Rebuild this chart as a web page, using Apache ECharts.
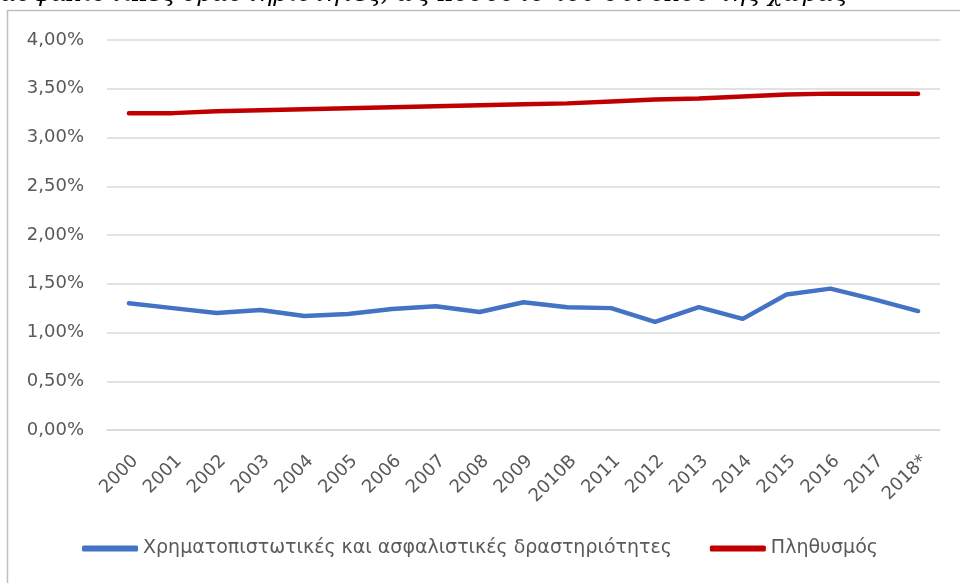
<!DOCTYPE html>
<html><head><meta charset="utf-8">
<script src="https://cdn.jsdelivr.net/npm/echarts@6/dist/echarts.min.js"></script>
<style>html,body{margin:0;padding:0;background:#fff}#c{width:960px;height:583px}</style>
</head><body><div id="c"></div>
<script>
const categories = ['2000','2001','2002','2003','2004','2005','2006','2007','2008','2009','2010B','2011','2012','2013','2014','2015','2016','2017','2018*'];
const financeValues = [1.30,1.25,1.20,1.23,1.17,1.19,1.24,1.27,1.21,1.31,1.26,1.25,1.11,1.26,1.14,1.39,1.45,1.34,1.22];
const populationValues = [3.25,3.25,3.27,3.28,3.29,3.30,3.31,3.32,3.33,3.34,3.35,3.37,3.39,3.40,3.42,3.44,3.45,3.45,3.45];
const yTicks = [0,0.5,1,1.5,2,2.5,3,3.5,4];
const seriesNames = ['Χρηματοπιστωτικές και ασφαλιστικές δραστηριότητες','Πληθυσμός'];
const titleText = 'ασφαλιστικές δραστηριότητες, ως ποσοστό του συνόλου της χώρας';

const fmt = v => v.toFixed(2).replace('.', ',') + '%';
const chart = echarts.init(document.getElementById('c'));
const font = 'DejaVu Sans';
chart.setOption({
  animation: false,
  backgroundColor: '#fff',
  graphic: [
    {type:'rect', shape:{x:7.5,y:10.5,width:1000,height:600}, style:{fill:'none', stroke:'#bfbfbf', lineWidth:1.5}},
    {type:'text', x:0, y:-18, style:{text:titleText, font:'italic 24.5px "DejaVu Serif"', fill:'#000'}}
  ],
  grid: {left:107, right:20, top:40, bottom:153},
  xAxis: {
    type:'category', data:categories, boundaryGap:true,
    axisLine:{show:true, lineStyle:{color:'#d9d9d9', width:1.5}},
    axisTick:{show:false},
    axisLabel:{rotate:45, interval:0, color:'#595959', fontSize:18, fontFamily:font, margin:22, verticalAlign:'top'}
  },
  yAxis: {
    type:'value', min:0, max:4, interval:0.5,
    axisLine:{show:false}, axisTick:{show:false},
    splitLine:{lineStyle:{color:'#d9d9d9', width:1.5}},
    axisLabel:{formatter:fmt, color:'#595959', fontSize:18, fontFamily:font, margin:23}
  },
  legend: {
    bottom:20, left:'center', itemWidth:56, itemHeight:6, itemGap:38, icon:'roundRect',
    textStyle:{color:'#595959', fontSize:19, fontFamily:font},
    data: seriesNames
  },
  series: [
    {name:seriesNames[0], type:'line', data:financeValues, symbol:'none', lineStyle:{color:'#4472C4', width:4.5, cap:'round', join:'round'}, itemStyle:{color:'#4472C4'}},
    {name:seriesNames[1], type:'line', data:populationValues, symbol:'none', lineStyle:{color:'#C00000', width:4.5, cap:'round', join:'round'}, itemStyle:{color:'#C00000'}}
  ]
});
</script></body></html>
